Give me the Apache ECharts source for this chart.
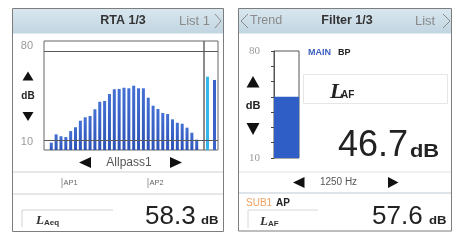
<!DOCTYPE html>
<html>
<head>
<meta charset="utf-8">
<script src="https://cdn.jsdelivr.net/npm/echarts@6/dist/echarts.min.js"></script>
<style>
html, body { margin: 0; padding: 0; background: #fff; }
#chart { width: 458px; height: 242px; }
</style>
</head>
<body>
<div id="chart"></div>
<script>
// 1/3 octave bands (12.5 Hz .. 20 kHz)
const bands = ['12.5', '16', '20', '25', '31.5', '40', '50', '63', '80', '100', '125', '160', '200', '250', '315', '400', '500', '630', '800', '1k', '1.25k', '1.6k', '2k', '2.5k', '3.15k', '4k', '5k', '6.3k', '8k', '10k', '12.5k', '16k', '20k'];
const rtaValues = [null, 9.4, 15.5, 14.1, 13.5, 17.9, 20.7, 25.5, 28.0, 29.0, 33.9, 39.4, 40.0, 45.1, 48.6, 48.8, 49.7, 49.3, 51.2, 49.3, 49.3, 42.4, 36.5, 34.1, 31.2, 30.4, 26.5, 24.0, 23.3, 20.4, 16.7, 11.6, null];
// overall bars on the right of the RTA
const overallNames = ['AP', 'A'];
const overallValues = [57.8, 55.4];
const overallColors = ['#35b6ea', '#3a64cc'];
const rtaLimits = [76.7, 11.3];
const rtaAxisLabels = [10, 80];
// filter screen
const filterBand = ['1250 Hz'];
const filterLevel = [50];
const filterTicks = [10, 20, 30, 40, 50, 60, 70, 80];
const filterAxisLabels = [10, 80];
const readLAeq = '58.3';
const readMain = '46.7';
const readSub = '57.6';

const chart = echarts.init(document.getElementById('chart'));
const FONT = 'Liberation Sans';

const txt = (x, y, text, size, opts = {}) => ({
  type: 'text', x: x, y: y, scaleX: opts.sx || 1, silent: true,
  style: {
    text: text,
    font: (opts.weight || 'normal') + ' ' + size + 'px ' + (opts.family || FONT),
    fill: opts.color || '#333',
    align: opts.align || 'left',
    verticalAlign: 'middle'
  }
});
const poly = (points, fill) => ({ type: 'polygon', silent: true, shape: { points: points }, style: { fill: fill || '#111' } });
const line = (points, color, w) => ({ type: 'polyline', silent: true, shape: { points: points }, style: { stroke: color, lineWidth: w || 1, fill: null } });
const headerFill = {
  type: 'linear', x: 0, y: 0, x2: 0, y2: 1,
  colorStops: [{ offset: 0, color: '#d9e7ef' }, { offset: 1, color: '#c1d5e1' }]
};

const limitLines = {
  silent: true, symbol: 'none', label: { show: false },
  lineStyle: { color: '#5a5a5a', width: 1, type: 'solid' },
  data: rtaLimits.map(v => ({ yAxis: v }))
};

const option = {
  animation: false,
  grid: [
    { left: 44, top: 41, width: 160, height: 109, show: true, borderColor: '#666', borderWidth: 1, backgroundColor: '#fff' },
    { left: 204, top: 41, width: 14, height: 109, show: true, borderColor: '#666', borderWidth: 1 },
    { left: 274, top: 51, width: 25, height: 107, show: true, borderColor: '#555', borderWidth: 1 }
  ],
  xAxis: [
    { type: 'category', gridIndex: 0, data: bands, show: false },
    { type: 'category', gridIndex: 1, data: overallNames, show: false },
    { type: 'category', gridIndex: 2, data: filterBand, show: false }
  ],
  yAxis: [
    {
      type: 'value', gridIndex: 0, min: 4, max: 84,
      axisLine: { show: false }, axisTick: { show: false }, splitLine: { show: false },
      axisLabel: { customValues: rtaAxisLabels, margin: 11, color: '#9a9a9a', fontSize: 11, fontFamily: FONT }
    },
    { type: 'value', gridIndex: 1, min: 4, max: 84, show: false, splitLine: { show: false } },
    {
      type: 'value', gridIndex: 2, min: 10, max: 80,
      axisLine: { show: true, lineStyle: { color: '#555' } },
      axisTick: { show: true, customValues: filterTicks, length: 3, lineStyle: { color: '#444' } },
      splitLine: { show: false },
      axisLabel: { customValues: filterAxisLabels, margin: 14, color: '#9a9a9a', fontSize: 11, fontFamily: 'Liberation Serif' }
    }
  ],
  series: [
    {
      type: 'bar', xAxisIndex: 0, yAxisIndex: 0, data: rtaValues, barWidth: 3,
      itemStyle: {
        color: { type: 'linear', x: 0, y: 0, x2: 0, y2: 1, colorStops: [{ offset: 0, color: '#4470d4' }, { offset: 1, color: '#2c52b6' }] }
      },
      markLine: limitLines
    },
    {
      type: 'bar', xAxisIndex: 1, yAxisIndex: 1, barWidth: 3,
      data: overallValues.map((v, i) => ({ value: v, itemStyle: { color: overallColors[i] } })),
      markLine: limitLines
    },
    {
      type: 'bar', xAxisIndex: 2, yAxisIndex: 2, data: filterLevel, barWidth: '100%',
      itemStyle: { color: '#2f5fc6' }
    }
  ],
  graphic: [
    // panel frames and headers
    { type: 'rect', silent: true, shape: { x: 12.5, y: 8.5, width: 211, height: 25 }, style: { fill: headerFill } },
    { type: 'rect', silent: true, shape: { x: 238.5, y: 8.5, width: 213, height: 25 }, style: { fill: headerFill } },
    { type: 'rect', silent: true, shape: { x: 12.5, y: 8.5, width: 211, height: 223 }, style: { fill: null, stroke: '#7d7d7d', lineWidth: 1 } },
    { type: 'rect', silent: true, shape: { x: 238.5, y: 8.5, width: 213, height: 222.5 }, style: { fill: null, stroke: '#7d7d7d', lineWidth: 1 } },

    // left header
    txt(123, 21, 'RTA 1/3', 12.5, { weight: 'bold', align: 'center', color: '#333' }),
    txt(179, 21, 'List 1', 13, { color: '#8a8a8a' }),
    line([[215, 14], [221, 21], [215, 28]], '#8a8a8a', 1),
    // right header
    line([[248, 14], [241, 21], [248, 28]], '#8a8a8a', 1),
    txt(250, 21, 'Trend', 12.5, { color: '#8a8a8a' }),
    txt(347, 21, 'Filter 1/3', 12.5, { weight: 'bold', align: 'center', color: '#333' }),
    txt(415, 21, 'List', 13, { color: '#8a8a8a' }),
    line([[443, 14], [450, 21], [443, 28]], '#8a8a8a', 1),

    // left level controls
    poly([[28, 71.5], [22.5, 80.5], [33.5, 80.5]]),
    txt(28, 96.5, 'dB', 10, { weight: 'bold', align: 'center', color: '#222' }),
    poly([[22.5, 112], [33.5, 112], [28, 121]]),
    // right level controls
    poly([[253, 76], [246.5, 87.5], [259.5, 87.5]]),
    txt(253, 105.5, 'dB', 11, { weight: 'bold', align: 'center', color: '#222' }),
    poly([[246.5, 123], [259.5, 123], [253, 135]]),

    // left: filter selector
    poly([[79, 162.5], [91, 157], [91, 168]]),
    txt(129, 162.5, 'Allpass1', 12, { align: 'center', color: '#555' }),
    poly([[170, 157], [170, 168], [182, 162.5]]),
    line([[13, 172], [223, 172]], '#cfcfcf'),
    line([[62, 178], [62, 188]], '#9a9a9a'),
    txt(63.5, 183, 'AP1', 7.5, { color: '#666' }),
    line([[148, 178], [148, 188]], '#9a9a9a'),
    txt(149.5, 183, 'AP2', 7.5, { color: '#666' }),
    line([[13, 194], [223, 194]], '#cfcfcf'),
    line([[22, 227], [22, 210], [113, 210]], '#d2d2d2'),
    {
      type: 'text', x: 36, y: 221, silent: true,
      style: {
        text: '{l|L}{s|Aeq}', verticalAlign: 'middle',
        rich: {
          l: { font: 'italic bold 13px Liberation Serif', fill: '#333' },
          s: { font: 'bold 8px Liberation Sans', fill: '#333', padding: [3, 0, 0, 0] }
        }
      }
    },
    txt(145, 217, readLAeq, 26, { color: '#222' }),
    txt(201, 221, 'dB', 10.5, { weight: 'bold', color: '#222', sx: 1.25 }),

    // right: main readout
    txt(308, 53, 'MAIN', 9, { weight: 'bold', color: '#3a5fc0' }),
    txt(338, 53, 'BP', 9, { weight: 'bold', color: '#222' }),
    { type: 'rect', silent: true, shape: { x: 303.5, y: 74.5, width: 144, height: 29 }, style: { fill: null, stroke: '#e6e6e6', lineWidth: 1 } },
    txt(330, 92.5, 'L', 22, { weight: 'italic bold', family: 'Liberation Serif', color: '#222' }),
    txt(341, 95.5, 'AF', 10, { weight: 'bold', color: '#222' }),
    txt(338, 146, readMain, 36, { color: '#222' }),
    txt(410, 152, 'dB', 19, { weight: 'bold', color: '#222', sx: 1.15 }),

    // right: frequency selector
    line([[239, 172], [451, 172]], '#e2e2e2'),
    poly([[293, 182.5], [304.5, 177], [304.5, 188]]),
    txt(338.5, 182.5, '1250 Hz', 10, { align: 'center', color: '#555' }),
    poly([[388, 177], [388, 188], [398.5, 182.5]]),
    line([[239, 193], [451, 193]], '#b9c9d5'),

    // right: sub readout
    txt(246, 203, 'SUB1', 10, { color: '#f0a060' }),
    txt(276, 203, 'AP', 10, { weight: 'bold', color: '#222' }),
    line([[248, 228], [248, 210], [318, 210]], '#d8d8d8'),
    {
      type: 'text', x: 260, y: 222, silent: true,
      style: {
        text: '{l|L}{s|AF}', verticalAlign: 'middle',
        rich: {
          l: { font: 'italic bold 13px Liberation Serif', fill: '#333' },
          s: { font: 'bold 8px Liberation Sans', fill: '#333', padding: [3, 0, 0, 0] }
        }
      }
    },
    txt(372, 217, readSub, 26, { color: '#222' }),
    txt(429, 221, 'dB', 10.5, { weight: 'bold', color: '#222', sx: 1.25 })
  ]
};

chart.setOption(option);
</script>
</body>
</html>
